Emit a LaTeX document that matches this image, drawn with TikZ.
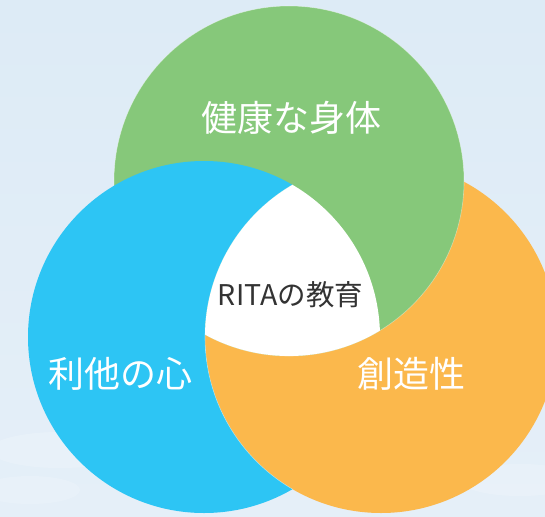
\documentclass[tikz,border=0pt]{standalone}
\usepackage{fontspec}
\newfontfamily\jpfont{Noto Sans CJK JP}
\definecolor{bgtop}{HTML}{DDEBF6}
\definecolor{bgbot}{HTML}{E5EFF8}
\definecolor{cgreen}{HTML}{86C87A}
\definecolor{cblue}{HTML}{2DC5F4}
\definecolor{corange}{HTML}{FBB84C}
\definecolor{ctext}{HTML}{333333}
\begin{document}
\begin{tikzpicture}[x=1pt,y=-1pt,
  edge/.style={draw=white, draw opacity=0.4, line width=0.6pt},
  biglabel/.style={text=white, font=\jpfont\fontsize{36}{40}\selectfont, inner sep=0pt, anchor=center},
  midlabel/.style={text=ctext, font=\jpfont\fontsize{28.5}{32}\selectfont, inner sep=0pt, anchor=center}]
\useasboundingbox (0,0) rectangle (545,516);
\shade[top color=bgtop, bottom color=bgbot] (0,0) rectangle (545,516);
% faint clouds near the bottom
\fill[white, opacity=0.18] (60,450) ellipse (70pt and 18pt);
\fill[white, opacity=0.15] (30,490) ellipse (50pt and 14pt);
\fill[white, opacity=0.18] (520,480) ellipse (60pt and 16pt);
% circle centres
\coordinate (G) at (289,181);
\coordinate (B) at (204,337);
\coordinate (O) at (381,337);
% orange under green
\fill[corange] (O) circle (176pt);
\fill[cgreen, edge] (G) circle (175pt);
% blue over green, but under orange: fill blue only outside the orange disc
\begin{scope}[even odd rule]
  \clip (O) circle (176pt) (-100,-100) rectangle (700,700);
  \fill[cblue] (B) circle (176pt);
\end{scope}
\begin{scope}
  \clip (B) circle (176pt);
  \draw[edge] (O) circle (176pt);
\end{scope}
% white triple intersection
\begin{scope}
  \clip (B) circle (176pt);
  \clip (G) circle (175pt);
  \fill[white] (O) circle (176pt);
\end{scope}
% labels
\node[biglabel] (health) at (291,118) {健康な身体};
\node[biglabel] (altru) at (120.5,374) {利他の心};
\node[biglabel] (creat) at (411,374) {創造性};
\node[midlabel] (rita) at (290.5,295) {RITAの教育};
\end{tikzpicture}
\end{document}
